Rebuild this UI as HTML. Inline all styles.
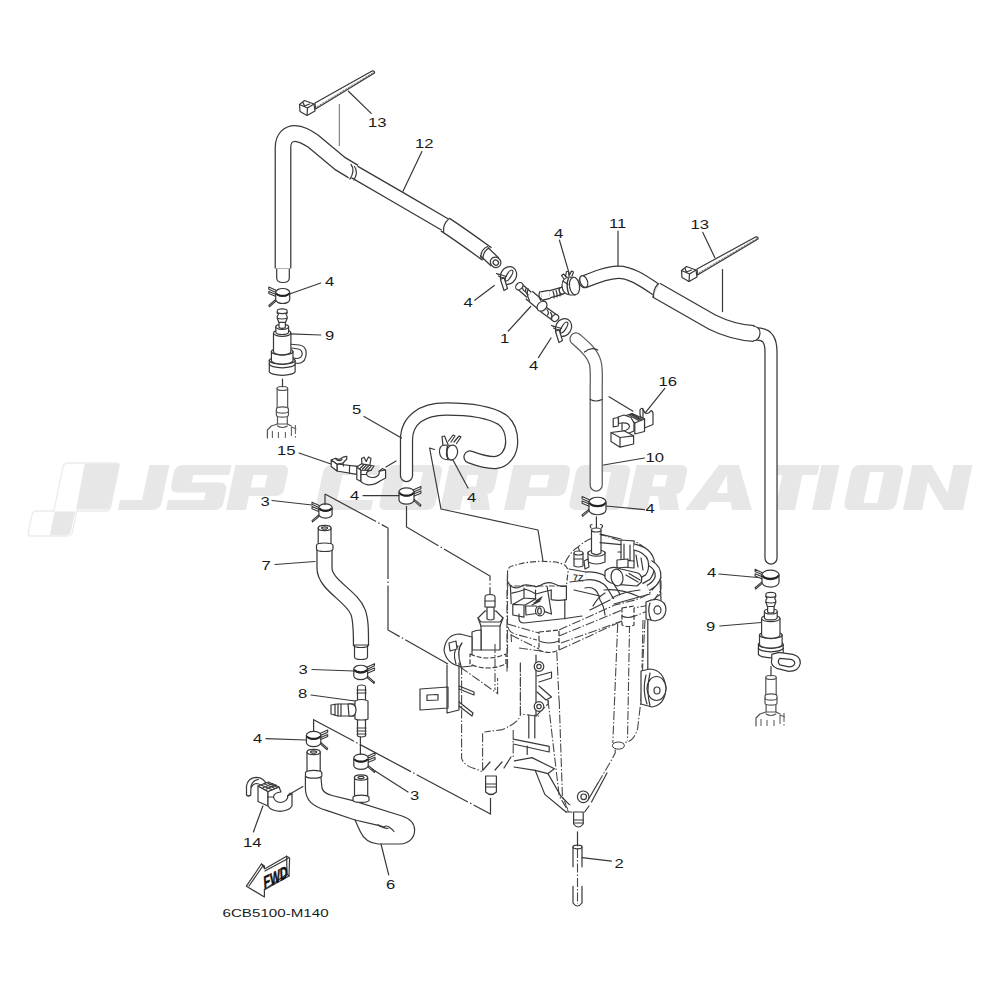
<!DOCTYPE html>
<html><head><meta charset="utf-8"><title>Fuel system diagram</title><style>
html,body{margin:0;padding:0;background:#fff;}
svg{display:block;}
.s{fill:none;stroke:#383838;stroke-width:1.2;stroke-linecap:round;stroke-linejoin:round}
.d{fill:none;stroke:#484848;stroke-width:1.1;stroke-dasharray:9 2 1.5 2}
.p{fill:none;stroke:#383838;stroke-width:1.2;stroke-dasharray:58 2.5 1.5 2.5}
.g{fill:none;stroke:#777;stroke-width:1.2;stroke-dasharray:2 1}
.g2{fill:none;stroke:#8a8a8a;stroke-width:1.3}
.w{fill:#fff;stroke:#383838;stroke-width:1.2;stroke-linejoin:round}
.t{font-family:"Liberation Sans",sans-serif;fill:#1a1a1a}
</style></head>
<body><svg width="1000" height="1000" viewBox="0 0 1000 1000">
<rect width="1000" height="1000" fill="#fff"/>
<g fill="#e7e7e7" fill-rule="evenodd" transform="matrix(1 0 -0.21 1 107.1 0)">
<path transform="translate(118 465)" d="M22,0 H42 V37 Q42,45 34,45 H0 V35 H22 Z"/>
<path transform="translate(166 465)" d="M8,0 H56 V10 H20 V17.5 H48 Q56,17.5 56,25.5 V37 Q56,45 48,45 H0 V35 H36 V27.5 H8 Q0,27.5 0,19.5 V8 Q0,0 8,0 Z"/>
<path transform="translate(226 465)" d="M0,0 H46 Q54,0 54,8 V23 Q54,31 46,31 H20 V45 H0 Z M20,10 H34 V22.5 H20 Z"/>
<path transform="translate(315 465)" d="M8,0 H56 V10 H20 V35 H56 V45 H8 Q0,45 0,37 V8 Q0,0 8,0 Z"/>
<path transform="translate(378 465)" d="M8,0 H48 Q56,0 56,8 V37 Q56,45 48,45 H8 Q0,45 0,37 V8 Q0,0 8,0 Z M19,7 H37 V38 H19 Z"/>
<path transform="translate(440 465)" d="M0,0 H42 Q50,0 50,8 V21 Q50,28 44,29 L50,45 H31 L26,31 H20 V45 H0 Z M20,10 H31 V21.5 H20 Z"/>
<path transform="translate(504 465)" d="M0,0 H50 Q58,0 58,8 V23 Q58,31 50,31 H20 V45 H0 Z M20,10 H38 V22.5 H20 Z"/>
<path transform="translate(568 465)" d="M8,0 H46 Q54,0 54,8 V37 Q54,45 46,45 H8 Q0,45 0,37 V8 Q0,0 8,0 Z M19,7 H35 V38 H19 Z"/>
<path transform="translate(627 465)" d="M0,0 H44 Q52,0 52,8 V21 Q52,28 46,29 L52,45 H33 L28,31 H20 V45 H0 Z M20,10 H33 V21.5 H20 Z"/>
<path transform="translate(685 465)" d="M24.5,0 H44.5 L67,45 H47 L44,37 H23 L20,45 H0 Z M28,28 H39 L34.5,10 Z"/>
<path transform="translate(760 465)" d="M0,0 H50 V10 H35.0 V45 H15.0 V10 H0 Z"/>
<path transform="translate(812 465)" d="M0,0 H18 V45 H0 Z"/>
<path transform="translate(843 465)" d="M8,0 H44 Q52,0 52,8 V37 Q52,45 44,45 H8 Q0,45 0,37 V8 Q0,0 8,0 Z M19,7 H33 V38 H19 Z"/>
<path transform="translate(903 465)" d="M0,0 H19 L41,28 V0 H60 V45 H41 L19,17 V45 H0 Z"/>
<path d="M75,463.5 H107 Q110,463.5 110,467 V506 Q110,509.6 106,509.6 H76 Z"/>
<path d="M55,511.5 H75.5 V531 Q75.5,535 71.5,535 H55 Z"/>
<path d="M58,463 H106 Q110,463 110,467 V507 Q110,511 106,511 H77 V532 Q77,536 73,536 H37 Q33,536 33,532 V515 Q33,511 37,511 H54 V467 Q54,463 58,463 Z" fill="none" stroke="#ebebeb" stroke-width="1.3"/>
</g>
<path class="w" d="M315,103 L372.5,70.8 Q375.0,71 374.5,73 L315.5,109 Z"/>
<path d="M315.5,107.6 L373.5,72.4" fill="none" stroke="#555" stroke-width="1" stroke-dasharray="1 0.8"/>
<path class="w" d="M299.5,104.5 L304.5,100.5 L314,104 L315,111 L307,115.5 L300,111.5 Z"/>
<path class="s" d="M299.5,104.5 L307.5,108 L314,104 M307.5,108 L307,115.5 M303,102.5 L304.5,106 L309.5,104"/>
<path class="s" d="M348.4,91.2 L371.2,113.4"/>
<text class="t" style="font-size:13px" transform="matrix(1.28 0 0 1 368 126.5)">13</text>
<path class="g2" d="M339.4,104 L339.4,146"/>
<path class="w" d="M276.7,268 L276.7,278 Q276.7,282.5 283,282.5 Q289.3,282.5 289.3,278 L289.3,268 Z"/>
<path d="M352,170.5 L400,198.3 L446,225.2" fill="none" stroke="#383838" stroke-width="14.30" stroke-linecap="butt" stroke-linejoin="round"/>
<path d="M352,170.5 L400,198.3 L446,225.2" fill="none" stroke="#fff" stroke-width="11.80" stroke-linecap="butt" stroke-linejoin="round"/>
<path d="M445,224.5 C458,233 472,243 487,254" fill="none" stroke="#383838" stroke-width="16.50" stroke-linecap="butt" stroke-linejoin="round"/>
<path d="M445,224.5 C458,233 472,243 487,254" fill="none" stroke="#fff" stroke-width="14.00" stroke-linecap="butt" stroke-linejoin="round"/>
<path d="M283,268.5 L283,148 C283,137 289,133.5 295,133.5 C301,133.5 306,136.5 313,141 L340,163.5 L354,172" fill="none" stroke="#383838" stroke-width="16.80" stroke-linecap="butt" stroke-linejoin="round"/>
<path d="M283,268.5 L283,148 C283,137 289,133.5 295,133.5 C301,133.5 306,136.5 313,141 L340,163.5 L354,172" fill="none" stroke="#fff" stroke-width="14.30" stroke-linecap="butt" stroke-linejoin="round"/>
<path class="w" d="M350.5,165.5 Q356,167 354.5,172.5 Q353,178 348.5,179 Z" style="stroke:none"/>
<path class="s" d="M351,164.5 Q355.5,170 350,179 M354.5,166.5 Q358.5,172 354,180"/>
<path class="s" d="M448.4,219.4 Q443,224 443.6,231.5"/>
<path d="M484,251.5 L495,262" fill="none" stroke="#383838" stroke-width="12.30" stroke-linecap="butt" stroke-linejoin="round"/>
<path d="M484,251.5 L495,262" fill="none" stroke="#fff" stroke-width="9.80" stroke-linecap="butt" stroke-linejoin="round"/>
<path class="s" d="M481,258.5 Q480,250 487.5,246.5 M483,259.5 Q482.5,252 489,248"/>
<ellipse class="w" cx="495.6" cy="262.4" rx="5.5" ry="5" transform="rotate(40 495.6 262.4)"/>
<ellipse class="s" cx="495.8" cy="262.6" rx="2.8" ry="2.5" transform="rotate(40 495.8 262.6)"/>
<path class="s" d="M403,191.2 L421.9,151.6"/>
<text class="t" style="font-size:13px" transform="matrix(1.28 0 0 1 415 147.5)">12</text>
<g>
<path class="w" d="M276.0,290.25 L268.8,286.95 L268.8,289.15 L276.0,292.45 Z M276.0,294.4 L268.8,291.4 L268.8,293.59999999999997 L276.0,296.59999999999997 Z M276.0,299.25 L268.8,305.34999999999997 L269.4,306.75 L276.0,301.04999999999995 Z" style="stroke-width:1.1"/>
<path class="w" d="M275.7,292.4 L275.7,299.59999999999997 A7,3.9200000000000004 0 0 0 289.7,299.59999999999997 L289.7,292.4 Z"/>
<ellipse class="w" cx="282.7" cy="292.4" rx="7" ry="3.9200000000000004"/>
<path d="M276.2,293.2 A7,3.9200000000000004 0 0 0 289.2,293.2" fill="none" stroke="#222" stroke-width="1.9"/>
</g>
<path class="s" d="M289.6,294 L320.8,283"/>
<text class="t" style="font-size:13px" transform="matrix(1.28 0 0 1 325 286)">4</text>
<g>
<path class="w" d="M288.2,344 L299.2,345 Q306.2,346 306.2,353 Q306.2,362.5 298.2,363.5 L288.2,361.5 Z"/>
<path class="s" d="M291.7,348 L298.2,349 Q302.2,350 302.2,354 Q301.7,358.5 296.2,358.5 L291.7,357.5"/>
<path class="w" d="M269.3,360.5 L269.3,371.5 A12.9,3.8 0 0 0 295.09999999999997,371.5 L295.09999999999997,360.5 Z"/>
<ellipse class="w" cx="282.2" cy="360.5" rx="12.9" ry="3.8"/>
<path class="s" d="M269.3,364.0 A12.9,3.8 0 0 0 295.09999999999997,364.0"/>
<path class="w" d="M271.4,351.5 L271.4,360.5 A10.8,3.6 0 0 0 293.0,360.5 L293.0,351.5 Z"/>
<ellipse class="w" cx="282.2" cy="351.5" rx="10.8" ry="3.6"/>
<path class="w" d="M273.5,333 L273.5,351.5 A8.7,3.3 0 0 0 290.9,351.5 L290.9,333 Z"/>
<ellipse class="w" cx="282.2" cy="333" rx="8.7" ry="3.3"/>
<path class="w" d="M275.8,326.8 L275.8,332 A6.4,2.5 0 0 0 288.59999999999997,332 L288.59999999999997,326.8 Z"/>
<ellipse class="w" cx="282.2" cy="326.8" rx="6.4" ry="2.5"/>
<path class="w" d="M279.0,322.3 L279.0,326.8 A3.2,1.5 0 0 0 285.4,326.8 L285.4,322.3 Z"/>
<path class="w" d="M277.3,310.8 Q277.3,308.8 282.2,308.8 Q287.09999999999997,308.8 287.09999999999997,310.8 L287.09999999999997,312.85 L286.0,314.47 L287.09999999999997,316.225 L287.09999999999997,318.25 L285.59999999999997,322.3 L278.8,322.3 L277.3,318.25 L277.3,316.225 L278.4,314.47 L277.3,312.85 Z"/>
<path class="s" d="M277.3,312.85 Q282.2,314.35 287.09999999999997,312.85 M277.3,318.25 Q282.2,319.75 287.09999999999997,318.25"/>
</g>
<path class="s" d="M290.2,333.8 L320.8,335"/>
<text class="t" style="font-size:13px" transform="matrix(1.28 0 0 1 325 340)">9</text>
<path class="s" d="M282.5,379 L282.5,389"/>
<g style="opacity:0.85">
<path class="w" d="M277.5,415 L277.5,424 L287.29999999999995,424 L287.29999999999995,415 Z"/>
<path class="w" d="M277.15,388.5 L277.15,409 L287.65,409 L287.65,388.5 A5.25,2 0 0 0 277.15,388.5 Z"/>
<ellipse class="w" cx="282.4" cy="388.5" rx="5.25" ry="2"/>
<path class="w" d="M276.34999999999997,409 L276.34999999999997,415 A6.05,2.2 0 0 0 288.45,415 L288.45,409 A6.05,2.2 0 0 0 276.34999999999997,409 Z"/>
<path class="s" d="M276.34999999999997,411 A6.05,2.2 0 0 0 288.45,411"/>
<path class="s" d="M267.4,438 L267.4,430 L271.4,426 L277.4,424 M277.5,426 Q282.4,429 287.29999999999995,426 M287.4,424 L291.4,426"/>
<path class="d" d="M272.4,431 L272.4,438 M278.4,432 L278.4,438 M285.4,432 L285.4,438 M291.4,427 L291.4,438 M295.4,425 L295.4,438 M291.4,427 L296.4,429"/>
</g>
<text class="t" style="font-size:13px" transform="matrix(1.28 0 0 1 277 454.5)">15</text>
<path class="s" d="M299,453 L331,464"/>
<g>
<path class="w" d="M337,464 L357.6,466.4 L356.8,474.4 L337,471 Z"/>
<path class="s" d="M349.6,466 L349.4,472.8"/>
<path class="w" d="M331.2,460 L331.2,466.5 L337,471 L337,464 Z"/>
<path class="w" d="M331.2,460 L335.5,458.2 L339,459.5 L343,457.2 L346.8,456.3 L346.8,459 L343,463 L337,464 Z"/>
<path class="s" d="M336,459.2 Q339.5,462 342,459.5 M343,463 L343.5,466"/>
<path class="w" d="M356.8,467 L356.8,479.2 L361,481.5 L361,470 Z"/>
<path class="w" d="M361,470 L371,470.4 Q366,471 366.5,474.5 Q368,477.5 373,477.5 Q378,477 379.2,473.5 L379.2,471.2 L385.6,470 L385.6,478 L380,481 Q375,485 368,484.8 Q363,484 361,481.5 Z"/>
<path class="s" d="M379.2,471.2 L382.5,468.5 L385.6,470 M366.5,474.5 L361.5,474.5"/>
<path class="w" d="M356.8,467 L362,463.5 L374,466 L371,470.4 L361,470 Z"/>
<path class="s" d="M363.5,465 L360,468.5 M366,465.5 L362.5,469 M368.5,466 L365,469.5 M371,466.5 L367.5,470"/>
<path class="w" d="M362,463.8 L361.5,458.5 L364,457.2 L366.2,461.5 L368.5,457 L371,458.5 L369.8,465.3 Z"/>
</g>
<path class="s" d="M386,467 L396,461"/>
<path d="M406.5,475.5 L406.5,440 C406.5,420 422,409 446,409 C470,409 490,412 502,419.5 C511,426 511.7,435 511.7,442 C511.5,452 506,461 496,462.5 C488,463 478,460 470,457" fill="none" stroke="#383838" stroke-width="13.30" stroke-linecap="round" stroke-linejoin="round"/>
<path d="M406.5,475.5 L406.5,440 C406.5,420 422,409 446,409 C470,409 490,412 502,419.5 C511,426 511.7,435 511.7,442 C511.5,452 506,461 496,462.5 C488,463 478,460 470,457" fill="none" stroke="#fff" stroke-width="10.80" stroke-linecap="round" stroke-linejoin="round"/>
<path class="s" d="M401.5,438 L364,416.5"/>
<text class="t" style="font-size:13px" transform="matrix(1.28 0 0 1 352 414)">5</text>
<path class="s" d="M443,446 L442,436.5 L444.5,436 L448,444.5 M448.5,441 L453,435 L455,436 L451,442 M454,442 L459,436 L461,437 L456.5,443.5"/>
<path class="w" d="M444,445 Q439,446 439.5,452.5 Q440.5,459 446,459.5 L452,460 L452,445.5 Z"/>
<ellipse class="w" cx="452" cy="452.5" rx="5.5" ry="7.5" transform="rotate(10 452 452.5)"/>
<path d="M447.5,446 Q446,452 448,459.5" fill="none" stroke="#383838" stroke-width="1.5"/>
<path class="s" d="M453,460 L468,488"/>
<text class="t" style="font-size:13px" transform="matrix(1.28 0 0 1 467 502)">4</text>
<g>
<path class="w" d="M413.7,489.85 L420.9,486.55 L420.9,488.75 L413.7,492.05 Z M413.7,494 L420.9,491 L420.9,493.2 L413.7,496.2 Z M413.7,498.85 L420.9,504.95 L420.3,506.35 L413.7,500.65 Z" style="stroke-width:1.1"/>
<path class="w" d="M399.0,492 L399.0,500 A7.5,4.2 0 0 0 414.0,500 L414.0,492 Z"/>
<ellipse class="w" cx="406.5" cy="492" rx="7.5" ry="4.2"/>
<path d="M399.5,492.8 A7.5,4.2 0 0 0 413.5,492.8" fill="none" stroke="#222" stroke-width="1.9"/>
</g>
<path class="s" d="M363,495.6 L399,495.6"/>
<text class="t" style="font-size:13px" transform="matrix(1.28 0 0 1 350 499.5)">4</text>
<path class="w" d="M697,269 L756,236.8 Q758.5,237 758,239 L697.5,275 Z"/>
<path d="M697.5,273.6 L757,238.4" fill="none" stroke="#555" stroke-width="1" stroke-dasharray="1 0.8"/>
<path class="w" d="M681.5,270.5 L686.5,266.5 L696,270 L697,277 L689,281.5 L682,277.5 Z"/>
<path class="s" d="M681.5,270.5 L689.5,274 L696,270 M689.5,274 L689,281.5 M685,268.5 L686.5,272 L691.5,270"/>
<path class="s" d="M714.8,257.6 L702.8,232.4"/>
<text class="t" style="font-size:13px" transform="matrix(1.28 0 0 1 690.5 229)">13</text>
<path class="s" d="M722.5,269.6 L722.5,311.6"/>
<path d="M757,334 C767,334 771,340 771,352 L771,558" fill="none" stroke="#383838" stroke-width="13.30" stroke-linecap="round" stroke-linejoin="round"/>
<path d="M757,334 C767,334 771,340 771,352 L771,558" fill="none" stroke="#fff" stroke-width="10.80" stroke-linecap="round" stroke-linejoin="round"/>
<path d="M585,281.5 C596,277 607,272.5 618,272.2 C630,272 642,280 656,289.5" fill="none" stroke="#383838" stroke-width="13.40" stroke-linecap="round" stroke-linejoin="round"/>
<path d="M585,281.5 C596,277 607,272.5 618,272.2 C630,272 642,280 656,289.5" fill="none" stroke="#fff" stroke-width="10.90" stroke-linecap="round" stroke-linejoin="round"/>
<path d="M656,290 L712,322 C728,330 745,333 754,333.5" fill="none" stroke="#383838" stroke-width="16.80" stroke-linecap="butt" stroke-linejoin="round"/>
<path d="M656,290 L712,322 C728,330 745,333 754,333.5" fill="none" stroke="#fff" stroke-width="14.30" stroke-linecap="butt" stroke-linejoin="round"/>
<path class="w" d="M753,326 Q760.5,327 760,333.5 Q759.5,340 753,341" />
<path d="M752.5,327.3 L752.5,339.7" stroke="#fff" stroke-width="2"/>
<path class="s" d="M657.5,284.5 Q653,290 653.6,297"/>
<ellipse class="w" cx="583.8" cy="281.5" rx="3.6" ry="6.1" transform="rotate(-22 583.8 281.5)"/>
<path class="s" d="M618,266 L618,231"/>
<text class="t" style="font-size:13px" transform="matrix(1.28 0 0 1 609 227.5)">11</text>
<ellipse class="w" cx="508.5" cy="275.5" rx="7.8" ry="9.2" transform="rotate(30 508.5 275.5)"/>
<ellipse class="s" cx="509.0" cy="275.5" rx="2.2" ry="6.199999999999999" transform="rotate(32 509.0 275.5)"/>
<path class="w" d="M500.5,279.5 L504.0,277.5 L507.5,288.5 L504.0,290.5 Z"/>
<path class="s" d="M506.5,276.5 L496.5,273.5 L498.5,274.5 M498.5,276.0 L505.5,279.0"/>
<path class="s" d="M494.3,285.5 L474.7,300.2"/>
<text class="t" style="font-size:13px" transform="matrix(1.28 0 0 1 463.5 307)">4</text>
<path d="M520,286.8 L531,296.5" fill="none" stroke="#383838" stroke-width="7.90" stroke-linecap="round" stroke-linejoin="round"/>
<path d="M520,286.8 L531,296.5" fill="none" stroke="#fff" stroke-width="5.40" stroke-linecap="round" stroke-linejoin="round"/>
<path class="s" d="M523,285.5 Q521.5,289.5 525,291.5 M526,288.5 Q524.5,292.5 528,294.5"/>
<ellipse class="w" cx="519.3" cy="286.2" rx="3.1" ry="4.1" transform="rotate(45 519.3 286.2)"/>
<path d="M543.5,309.5 L554.5,317.5" fill="none" stroke="#383838" stroke-width="8.30" stroke-linecap="round" stroke-linejoin="round"/>
<path d="M543.5,309.5 L554.5,317.5" fill="none" stroke="#fff" stroke-width="5.80" stroke-linecap="round" stroke-linejoin="round"/>
<path class="s" d="M547,309.5 Q549.5,313 547.5,315 M550.5,312.5 Q553,315.5 551,318"/>
<ellipse class="w" cx="555.2" cy="318" rx="3.1" ry="3.8" transform="rotate(45 555.2 318)"/>
<path d="M529,295 L542,306" fill="none" stroke="#383838" stroke-width="11.30" stroke-linecap="butt" stroke-linejoin="round"/>
<path d="M529,295 L542,306" fill="none" stroke="#fff" stroke-width="8.80" stroke-linecap="butt" stroke-linejoin="round"/>
<ellipse class="w" cx="542" cy="306.2" rx="4.3" ry="5.6" transform="rotate(45 542 306.2)"/>
<path class="s" d="M528.4,289 Q525.5,293 529.5,300.5"/>
<path d="M547,295 L561.5,291" fill="none" stroke="#383838" stroke-width="8.30" stroke-linecap="round" stroke-linejoin="round"/>
<path d="M547,295 L561.5,291" fill="none" stroke="#fff" stroke-width="5.80" stroke-linecap="round" stroke-linejoin="round"/>
<path class="s" d="M553,291.2 Q554.5,294.5 554,298 M556,290.5 Q557.5,293.5 557,297 M559,289.7 Q560.5,292.5 560,296"/>
<ellipse class="w" cx="562" cy="290.7" rx="2.6" ry="3.4" transform="rotate(-15 562 290.7)"/>
<path d="M541.5,296 L549.5,294.3" fill="none" stroke="#383838" stroke-width="9.50" stroke-linecap="butt" stroke-linejoin="round"/>
<path d="M541.5,296 L549.5,294.3" fill="none" stroke="#fff" stroke-width="7.00" stroke-linecap="butt" stroke-linejoin="round"/>
<path class="s" d="M540,291.5 Q537.5,296.5 541,300.5"/>
<path class="s" d="M530.7,306.5 L508.3,331"/>
<text class="t" style="font-size:13px" transform="matrix(1.28 0 0 1 500 343)">1</text>
<path class="s" d="M564,279 L561.5,275.5 L563.5,274 L567,277.5 M565.5,276.5 L566.5,271.5 L568.5,271.5 L569,276 M569.5,275 L571.5,271 L573.5,272 L572,276"/>
<path class="w" d="M569,277 Q562,278 562,286 Q562.5,294 570,295 L575,295 L575,277.5 Z"/>
<ellipse class="w" cx="574.5" cy="286" rx="5" ry="8.8" transform="rotate(-8 574.5 286)"/>
<path d="M568.5,278 Q565.5,286 569,294.5" fill="none" stroke="#383838" stroke-width="1.4"/>
<path class="s" d="M563,281 L568,284.5"/>
<path class="s" d="M569.2,273.6 L559.4,240"/>
<text class="t" style="font-size:13px" transform="matrix(1.28 0 0 1 554 237.5)">4</text>
<ellipse class="w" cx="563.5" cy="327.5" rx="7.8" ry="9.2" transform="rotate(30 563.5 327.5)"/>
<ellipse class="s" cx="564.0" cy="327.5" rx="2.2" ry="6.199999999999999" transform="rotate(32 564.0 327.5)"/>
<path class="w" d="M555.5,331.5 L559.0,329.5 L562.5,340.5 L559.0,342.5 Z"/>
<path class="s" d="M561.5,328.5 L551.5,325.5 L553.5,326.5 M553.5,328.0 L560.5,331.0"/>
<path class="s" d="M551,338 L538.4,357.6"/>
<text class="t" style="font-size:13px" transform="matrix(1.28 0 0 1 529 370)">4</text>
<path d="M576,339 C583,345 592,352 595,362 C597,368 596.2,376 596.2,390 L596.2,485" fill="none" stroke="#5a5a5a" stroke-width="13.30" stroke-linecap="round" stroke-linejoin="round"/>
<path d="M576,339 C583,345 592,352 595,362 C597,368 596.2,376 596.2,390 L596.2,485" fill="none" stroke="#fff" stroke-width="10.80" stroke-linecap="round" stroke-linejoin="round"/>
<path class="s" d="M584.5,352 Q591,346.5 597.8,350"/>
<path class="s" d="M590.3,399.5 Q596,402.5 602,399.5"/>
<path class="s" d="M603.6,465 L644.4,458"/>
<text class="t" style="font-size:13px" transform="matrix(1.28 0 0 1 645.5 461.5)">10</text>
<g>
<path class="w" d="M589.3,499.85 L582.0999999999999,496.55 L582.0999999999999,498.75 L589.3,502.05 Z M589.3,504 L582.0999999999999,501 L582.0999999999999,503.2 L589.3,506.2 Z M589.3,508.85 L582.0999999999999,514.95 L582.6999999999999,516.35 L589.3,510.65 Z" style="stroke-width:1.1"/>
<path class="w" d="M589.0,502 L589.0,510 A8.5,4.760000000000001 0 0 0 606.0,510 L606.0,502 Z"/>
<ellipse class="w" cx="597.5" cy="502" rx="8.5" ry="4.760000000000001"/>
<path d="M589.5,502.8 A8.5,4.760000000000001 0 0 0 605.5,502.8" fill="none" stroke="#222" stroke-width="1.9"/>
</g>
<path class="s" d="M606,506 L644.4,509.6"/>
<text class="t" style="font-size:13px" transform="matrix(1.28 0 0 1 645.5 513)">4</text>
<path class="s" d="M596.4,516.8 L596.4,534.8"/>
<g>
<path class="w" d="M640,410 Q641,407.5 643,409 Q644,413 647,413.5 Q650,413 651,410.5 Q653,411 653,414 L653,424.5 L644.5,428 L644.5,419 Q640,418 640,414 Z"/>
<path class="s" d="M643,409 L643,418"/>
<path class="w" d="M626,415.5 L632,413.5 L644.5,419 L644.5,431.5 L634.8,434 L634.8,423 Z"/>
<path class="s" d="M629,415 L638.5,420.5 M630.5,414.3 L640,419.8 M632,413.8 L641.5,419.2 M634.8,423 L644.5,419"/>
<path class="w" d="M618,417 L624,415 L631,417.5 L634,423 L634,431 L628,433.5 L623,431 Q629,430 629.5,426.5 Q629,422.5 622,423 L618,423.5 Z"/>
<path class="s" d="M618.5,417.5 L618.5,423.5 M622,423 L622,430"/>
<path class="w" d="M613.2,418.5 L618.3,417.5 L618.3,426 L613.2,426.8 Z"/>
<path class="w" d="M611,432.5 L620,437.5 L633.6,435.8 L624,430.8 Z M611,432.5 L611,441.5 L620,447.2 L620,437.5 Z M620,437.5 L633.6,435.8 L633.6,444 L620,447.2 Z"/>
</g>
<path class="s" d="M645.6,412.4 L664.8,388.4"/>
<text class="t" style="font-size:13px" transform="matrix(1.28 0 0 1 658.5 386)">16</text>
<path class="s" d="M609,396.8 L633,411.2"/>
<g>
<path class="w" d="M762.3,572.65 L755.0999999999999,569.3499999999999 L755.0999999999999,571.55 L762.3,574.8499999999999 Z M762.3,576.8 L755.0999999999999,573.8 L755.0999999999999,576.0 L762.3,579.0 Z M762.3,581.65 L755.0999999999999,587.75 L755.6999999999999,589.15 L762.3,583.4499999999999 Z" style="stroke-width:1.1"/>
<path class="w" d="M762.0,574.8 L762.0,582.3 A8.5,4.760000000000001 0 0 0 779.0,582.3 L779.0,574.8 Z"/>
<ellipse class="w" cx="770.5" cy="574.8" rx="8.5" ry="4.760000000000001"/>
<path d="M762.5,575.5999999999999 A8.5,4.760000000000001 0 0 0 778.5,575.5999999999999" fill="none" stroke="#222" stroke-width="1.9"/>
</g>
<path class="s" d="M719,574 L757.6,577.5"/>
<text class="t" style="font-size:13px" transform="matrix(1.28 0 0 1 707 576.5)">4</text>
<g>
<path class="w" d="M758.4,644.5 L758.4,654 A12.4,3.8 0 0 0 783.1999999999999,654 L783.1999999999999,644.5 Z"/>
<ellipse class="w" cx="770.8" cy="644.5" rx="12.4" ry="3.8"/>
<path class="s" d="M758.4,648.0 A12.4,3.8 0 0 0 783.1999999999999,648.0"/>
<path class="w" d="M759.5,635 L759.5,644.5 A11.3,3.6 0 0 0 782.0999999999999,644.5 L782.0999999999999,635 Z"/>
<ellipse class="w" cx="770.8" cy="635" rx="11.3" ry="3.6"/>
<path class="w" d="M761.5999999999999,618.4 L761.5999999999999,635 A9.2,3.3 0 0 0 780.0,635 L780.0,618.4 Z"/>
<ellipse class="w" cx="770.8" cy="618.4" rx="9.2" ry="3.3"/>
<path class="w" d="M764.4,611.5 L764.4,617.4 A6.4,2.5 0 0 0 777.1999999999999,617.4 L777.1999999999999,611.5 Z"/>
<ellipse class="w" cx="770.8" cy="611.5" rx="6.4" ry="2.5"/>
<path class="w" d="M767.5999999999999,606.5 L767.5999999999999,611.5 A3.2,1.5 0 0 0 774.0,611.5 L774.0,606.5 Z"/>
<path class="w" d="M765.9,594.3 Q765.9,592.3 770.8,592.3 Q775.6999999999999,592.3 775.6999999999999,594.3 L775.6999999999999,596.56 L774.5999999999999,598.264 L775.6999999999999,600.11 L775.6999999999999,602.24 L774.1999999999999,606.5 L767.4,606.5 L765.9,602.24 L765.9,600.11 L767.0,598.264 L765.9,596.56 Z"/>
<path class="s" d="M765.9,596.56 Q770.8,598.06 775.6999999999999,596.56 M765.9,602.24 Q770.8,603.74 775.6999999999999,602.24"/>
<path class="w" d="M771.8,654.3 L778.8,652.3 L792.8,654.3 Q800.8,656.3 800.3,663.3 Q798.8,671.3 788.8,671.3 L776.8,668.3 Q769.8,665.3 771.8,659.3 Z"/>
<path class="s" d="M779.8,658.3 L790.8,659.3 Q794.8,660.3 794.8,663.3 Q793.8,666.8 788.8,666.8 L779.8,664.8 Q776.8,661.3 779.8,658.3 Z"/>
</g>
<path class="s" d="M719.8,626 L761.2,622.5"/>
<text class="t" style="font-size:13px" transform="matrix(1.28 0 0 1 706 630.5)">9</text>
<path class="s" d="M771,666.6 L771,677.4"/>
<g style="opacity:0.85">
<path class="w" d="M766.1,703 L766.1,712 L775.9,712 L775.9,703 Z"/>
<path class="w" d="M765.8,677.5 L765.8,696 L776.2,696 L776.2,677.5 A5.2,2 0 0 0 765.8,677.5 Z"/>
<ellipse class="w" cx="771" cy="677.5" rx="5.2" ry="2"/>
<path class="w" d="M765.0,696 L765.0,703 A6.0,2.2 0 0 0 777.0,703 L777.0,696 A6.0,2.2 0 0 0 765.0,696 Z"/>
<path class="s" d="M765.0,698 A6.0,2.2 0 0 0 777.0,698"/>
<path class="s" d="M756,726 L756,718 L760,714 L766,712 M766.1,714 Q771,717 775.9,714 M776,712 L780,714"/>
<path class="d" d="M761,719 L761,726 M767,720 L767,726 M774,720 L774,726 M780,715 L780,726 M784,713 L784,726 M780,715 L785,717"/>
</g>
<g>
<path class="w" d="M319.2,505.45000000000005 L312.0,502.15000000000003 L312.0,504.35 L319.2,507.65000000000003 Z M319.2,509.6 L312.0,506.6 L312.0,508.8 L319.2,511.8 Z M319.2,514.45 L312.0,520.5500000000001 L312.59999999999997,521.95 L319.2,516.25 Z" style="stroke-width:1.1"/>
<path class="w" d="M318.9,507.6 L318.9,514.4 A6.6,3.696 0 0 0 332.1,514.4 L332.1,507.6 Z"/>
<ellipse class="w" cx="325.5" cy="507.6" rx="6.6" ry="3.696"/>
<path d="M319.4,508.40000000000003 A6.6,3.696 0 0 0 331.6,508.40000000000003" fill="none" stroke="#222" stroke-width="1.9"/>
</g>
<path class="s" d="M272,500.5 L312,505"/>
<text class="t" style="font-size:13px" transform="matrix(1.28 0 0 1 260.5 505.5)">3</text>
<path d="M324.5,549 L324.5,568 C324.5,585 352,596 358,612 C361,620 361,630 361,646" fill="none" stroke="#383838" stroke-width="16.30" stroke-linecap="butt" stroke-linejoin="round"/>
<path d="M324.5,549 L324.5,568 C324.5,585 352,596 358,612 C361,620 361,630 361,646" fill="none" stroke="#fff" stroke-width="13.80" stroke-linecap="butt" stroke-linejoin="round"/>
<path class="w" d="M318.2,528 L318.2,548 L331,548 L331,528 Z"/>
<ellipse class="w" cx="324.6" cy="528" rx="6.4" ry="2.6"/>
<ellipse class="s" cx="324.6" cy="528" rx="3" ry="1.2"/>
<path class="w" d="M316.5,545.5 L316.5,549 A8.2,2.5 0 0 0 333,549 L333,545.5 A8.2,2.5 0 0 0 316.5,545.5 Z"/>
<path class="w" d="M354.5,645 L354.5,657 A6.5,2.5 0 0 0 367.5,657 L367.5,645 Z"/>
<path class="s" d="M353.6,645 A7.4,2.5 0 0 0 368.4,645"/>
<path class="s" d="M315,561.5 L275,564.5"/>
<text class="t" style="font-size:13px" transform="matrix(1.28 0 0 1 261.5 570)">7</text>
<g>
<path class="w" d="M367.29999999999995,666.95 L374.49999999999994,663.65 L374.49999999999994,665.85 L367.29999999999995,669.15 Z M367.29999999999995,671.1 L374.49999999999994,668.1 L374.49999999999994,670.3000000000001 L367.29999999999995,673.3000000000001 Z M367.29999999999995,675.95 L374.49999999999994,682.0500000000001 L373.9,683.45 L367.29999999999995,677.75 Z" style="stroke-width:1.1"/>
<path class="w" d="M353.8,669.1 L353.8,675.7 A6.9,3.8640000000000008 0 0 0 367.59999999999997,675.7 L367.59999999999997,669.1 Z"/>
<ellipse class="w" cx="360.7" cy="669.1" rx="6.9" ry="3.8640000000000008"/>
<path d="M354.3,669.9 A6.9,3.8640000000000008 0 0 0 367.09999999999997,669.9" fill="none" stroke="#222" stroke-width="1.9"/>
</g>
<path class="s" d="M312,669.5 L354,671"/>
<text class="t" style="font-size:13px" transform="matrix(1.28 0 0 1 298.5 673.5)">3</text>
<path class="w" d="M357.5,687 Q357.5,685 361.5,685 Q365.5,685 365.5,687 L365.5,700 L357.5,700 Z"/>
<path class="s" d="M357,690 L366,690 M357,693 L366,693"/>
<path class="w" d="M331,705 L331,714 L338,716 L356,716 L356,704 L338,704 Z"/>
<path class="s" d="M335,704 L335,715.5 M338,704 L338,716 M341,704 L341,716"/>
<path class="w" d="M355,701 L355,719 Q361.5,722 368,719 L368,701 Q361.5,698 355,701 Z"/>
<path class="w" d="M348,704 Q356,703 356,710 Q356,717 349,716 Z"/>
<path class="w" d="M357.5,720 L357.5,736 Q361.5,738 365.5,736 L365.5,720 Z"/>
<path class="s" d="M357,728 L366,728 M357,731 L366,731 M357,734 L366,734"/>
<path class="s" d="M311,695 L355,701"/>
<text class="t" style="font-size:13px" transform="matrix(1.28 0 0 1 298 698)">8</text>
<g>
<path class="w" d="M320.5,733.25 L327.7,729.9499999999999 L327.7,732.15 L320.5,735.4499999999999 Z M320.5,737.4 L327.7,734.4 L327.7,736.6 L320.5,739.6 Z M320.5,742.25 L327.7,748.35 L327.1,749.75 L320.5,744.05 Z" style="stroke-width:1.1"/>
<path class="w" d="M306.40000000000003,735.4 L306.40000000000003,742.6 A7.2,4.032000000000001 0 0 0 320.8,742.6 L320.8,735.4 Z"/>
<ellipse class="w" cx="313.6" cy="735.4" rx="7.2" ry="4.032000000000001"/>
<path d="M306.90000000000003,736.1999999999999 A7.2,4.032000000000001 0 0 0 320.3,736.1999999999999" fill="none" stroke="#222" stroke-width="1.9"/>
</g>
<path class="s" d="M266,738.6 L306,740"/>
<text class="t" style="font-size:13px" transform="matrix(1.28 0 0 1 253 743)">4</text>
<g>
<path class="w" d="M367.9,756.0500000000001 L375.09999999999997,752.75 L375.09999999999997,754.95 L367.9,758.25 Z M367.9,760.2 L375.09999999999997,757.2 L375.09999999999997,759.4000000000001 L367.9,762.4000000000001 Z M367.9,765.0500000000001 L375.09999999999997,771.1500000000001 L374.5,772.5500000000001 L367.9,766.85 Z" style="stroke-width:1.1"/>
<path class="w" d="M353.8,758.2 L353.8,765.4000000000001 A7.2,4.032000000000001 0 0 0 368.2,765.4000000000001 L368.2,758.2 Z"/>
<ellipse class="w" cx="361" cy="758.2" rx="7.2" ry="4.032000000000001"/>
<path d="M354.3,759.0 A7.2,4.032000000000001 0 0 0 367.7,759.0" fill="none" stroke="#222" stroke-width="1.9"/>
</g>
<path class="s" d="M372,769 L408,792"/>
<text class="t" style="font-size:13px" transform="matrix(1.28 0 0 1 410 800)">3</text>
<path class="p" d="M360.4,736.6 L360.4,755"/>
<path class="w" d="M305.4,776 L320.8,776 L322,788 C323,792 326,794 332,795.5 L353,800.6 L402,816 C411,819 414.6,824 414.6,830 C414.6,838 409,843.5 400,844 L378,844 C369,843 363,838 360,831 L355,820 L326.4,810.4 C312,806 305.4,800 305.4,788 Z"/>
<path class="s" d="M355,820 L374,824.4 Q380,825.5 384,827 Q386,825 389,827 Q392,829 394,831.5"/>
<path class="s" d="M378,824.8 Q382,828 388,828.5"/>
<path class="s" d="M381,844 L388.7,874.8"/>
<text class="t" style="font-size:13px" transform="matrix(1.28 0 0 1 386 888.5)">6</text>
<path class="w" d="M307,752 L307,773 L320.2,773 L320.2,752 Z"/>
<ellipse class="w" cx="313.6" cy="752" rx="6.6" ry="2.6"/>
<ellipse class="s" cx="313.6" cy="752" rx="3" ry="1.2"/>
<path class="w" d="M305.5,772.5 L305.5,776 A8.2,2.5 0 0 0 321.8,776 L321.8,772.5 A8.2,2.5 0 0 0 305.5,772.5 Z"/>
<path class="w" d="M354.5,777.5 L354.5,797 L367.7,797 L367.7,777.5 Z"/>
<ellipse class="w" cx="361" cy="777.5" rx="6.6" ry="2.6"/>
<ellipse class="s" cx="361" cy="777.5" rx="3" ry="1.2"/>
<path class="w" d="M353,797 L353,800.5 A8.2,2.5 0 0 0 369,800.5 L369,797 A8.2,2.5 0 0 0 353,797 Z"/>
<g>
<path class="w" d="M246.5,795 L246.5,786 Q248,777.5 256.5,777.3 Q264,777.5 267,785.5 L262.5,789.5 Q261.5,783.5 256.5,783.5 Q251.5,784 250.8,789.5 L250.8,795 Q248.5,797 246.5,795 Z"/>
<path class="s" d="M250.8,787 Q252,780.5 258.5,779.5"/>
<path class="w" d="M258,786 L258,801.5 L268,806 L268,791.5 Z"/>
<path class="w" d="M268,791.5 L279,787 L281,792 Q274,792.5 273.5,797 Q274.5,802 280.5,802.5 Q285.5,802 287.6,798 L287.6,796 L292,794 L292,806 Q289,811 280,811.3 Q271,811 268,806 Z"/>
<path class="s" d="M287.6,796 L290,793.2 L292,794 M273.5,797 L268,797"/>
<path class="w" d="M258,786 L268.5,782 L279,787 L268,791.5 Z"/>
<path class="s" d="M261,785 L271.5,789.5 M264,783.8 L274.5,788.3 M267,782.8 L277,787.3 M263,787.8 L273,783.5 M266,789.2 L276,784.8"/>
</g>
<path class="s" d="M262.9,806 L253.4,832"/>
<text class="t" style="font-size:13px" transform="matrix(1.28 0 0 1 243 846.5)">14</text>
<path class="s" d="M291.2,793.3 L302.9,786.6"/>
<path class="w" d="M246.4,886.2 L261.4,864 L265,868.8 L286.6,856.2 L289.6,858 L289,876 L264.4,889.8 L264.4,897 Z"/>
<path class="s" d="M261.4,864 L264.4,866 L264.4,868.5 M286.6,856.2 L287,874 L289,876 M264.4,889.8 L287,874"/>
<path class="s" d="M249,886 L262.5,866.5 M265,871 L288,858.5"/>
<text transform="matrix(0.6 -0.29 0.06 1 264 889)" style="font:bold 17.5px 'Liberation Sans',sans-serif" fill="#111" stroke="#111" stroke-width="0.5">FWD</text>
<text class="t" style="font-size:11.8px" transform="matrix(1.285 0 0 1 222.5 916.8)">6CB5100-M140</text>
<path class="s" d="M577.5,831.8 L577.5,845.8"/>
<path class="s" d="M573,847 L573,866.8 M582,847 L582,866.8 M573,886.4 L573,903 Q577.5,909 582,903 L582,886.4"/>
<ellipse class="s" cx="577.5" cy="847" rx="4.5" ry="1.8"/>
<path class="d" d="M577.5,849 L577.5,904"/>
<path class="s" d="M582,857.7 L611.4,861.2"/>
<text class="t" style="font-size:13px" transform="matrix(1.28 0 0 1 614.5 867.5)">2</text>
<path class="p" d="M406.5,506 L406.5,527 L490,576 L490,595"/>
<path class="p" d="M325,494 L325,505"/>
<path class="p" d="M325,494 L388,528 L388,630 L448,664"/>
<path class="s" d="M434.5,449.5 L429.6,448 L441,509 L538,530 L551.5,614"/>
<path class="p" d="M313.6,732 L313.6,719.8 L490.5,814 L490.5,798"/>
<g class="fa">
<path class="d" d="M548,700 L559.2,796 L568.8,812"/>
<path class="d" d="M559.2,700 L562.4,796 L568.8,812"/>
<path class="d" d="M556.8,652 L559,700 M548.4,704 L548,700"/>
<path class="d" d="M645,620 L641,700 L637.6,728.8 Q634,740 628,741.6 L615.2,746.4"/>
<path class="d" d="M617.7,624 L612.8,743 M629.6,624 L627.5,740.4"/>
<path class="s" d="M647.8,620 L647.8,669"/>
<ellipse class="w" cx="618.4" cy="745.6" rx="6" ry="3.6" style="stroke-width:1"/>
<path class="d" d="M615.2,749.5 L615.2,752.8 L612,759.2 L598,783"/>
<path class="s" d="M598,783 L588,800 M607,773 L591.5,802"/>
<path class="w" d="M641,671 L650,669 Q664,670 666,688 Q665,705 652,707 L641,704 Z"/>
<ellipse class="w" cx="656.5" cy="688.5" rx="9.5" ry="12"/>
<ellipse class="s" cx="657" cy="690.5" rx="3" ry="3.5"/>
<path class="s" d="M646,675 Q642,690 647,704 M650,673 Q646,690 650,706"/>
<path class="s" d="M513.2,739.2 L549.2,746.4 L549.2,752 L513.2,744"/>
<path class="s" d="M527.2,746 L527.2,754.4"/>
<path class="s" d="M514.4,760.8 L532,757.6 L554.4,768.8 L548,773.6 L535.2,770.4 L514,767"/>
<path class="s" d="M535.2,770.4 L544.8,794.4 L566,812 M548,773.6 L560.8,796 L570.4,805.6"/>
<path class="s" d="M528.8,715 L528.8,738 M534.8,715 L534.8,738"/>
<path class="w" d="M566,805 L571,811.5 L585,811.5 L587,806 Z" style="stroke:none"/>
<path class="s" d="M566,812 L572,812 M584.7,812 L589,806"/>
<path class="w" d="M573.6,812 L573.6,824 Q578.4,830 583.2,824 L583.2,812 Z"/>
<path class="s" d="M573.6,820 L583.2,820 M573.6,823 L583.2,823"/>
<circle class="w" cx="583.2" cy="796.8" r="5.8"/>
<circle class="s" cx="583.7" cy="796.8" r="2.8"/>
<path class="d" d="M520.4,662.4 L520.4,714 L536,716 L541,716 M536,716 L548,704"/>
<path class="s" d="M536,655 L536,716"/>
<circle class="w" cx="539" cy="666.5" r="4.8"/><circle class="s" cx="539" cy="666.5" r="2.2"/>
<circle class="w" cx="539" cy="706.5" r="4.8"/><circle class="s" cx="539" cy="706.5" r="2.2"/>
<path class="s" d="M537,676 L551.5,672 L551.5,678 L539,682 M539,686 L551.5,697 L546,700 L537,692"/>
<path class="d" d="M461.6,666 L461.6,758.4 Q464,766 476,769 L482,771.6"/>
<path class="d" d="M520.4,663.6 L520.4,714 Q520,722 502.4,729.6 L484.4,732"/>
<path class="d" d="M482.6,733.2 L482.6,770.4 M513.2,730 L513.2,758.4"/>
<path class="d" d="M460.4,667.2 L497.6,693.6 L497.6,678"/>
<path class="w" d="M485.6,776 L485.6,792 Q491,797 496.4,792 L496.4,776 Z"/>
<path class="s" d="M485.6,784 L496.4,784 M485.6,787 L496.4,787"/>
<path class="s" d="M483,770 L490,762 M495,770 L502,762 M504,768 L511,757"/>
<path class="w" d="M481,625 L481,650 L500,650 L500,625 Z"/>
<path class="w" d="M472,632 Q476,630 481,630 L481,650 L472,650 Z"/>
<path class="w" d="M478,618 L485,611 L496,611 L503,618 L500,626 L481,626 Z"/>
<path class="s" d="M478,618 L481,622 L500,622 L503,618"/>
<path class="w" d="M487,607 L487,619 Q490.5,621 494,619 L494,607 Z"/>
<path class="w" d="M485,597 Q485,594.5 490,594.5 Q495,594.5 495,597 L495,607 L485,607 Z"/>
<path class="s" d="M485,601 L495,601"/>
<path class="w" d="M444,650 Q446,634 460,634 L472,637 L472,666 L462,667 Q446,664 444,650 Z"/>
<path class="s" d="M458,646 Q452,652 456,664 M462,643 Q456,650 461,666"/>
<path class="w" d="M449,643 L456,641 L457,649 L450,651 Z"/>
<path class="w" d="M470,654 Q487,662 506,654 L506,664 Q487,672 470,664 Z" style="stroke-dasharray:5 2"/>
<path class="d" d="M495,644 L495,690 M507,590 L507,673"/>
<path class="w" d="M420,689 L448,687 L448,708 L420,710 Z"/>
<path class="s" d="M427,695 L438,694.5 L438,700 L427,700.5 Z"/>
<path class="s" d="M447,665 L447,713 M459,663 L459,710 M447,713 L459,710"/>
<path class="s" d="M459,686 L474,692 L474,695 L459,689 M459,702 L473,713 L472,716 L459,706"/>
<path class="w" d="M507.4,580 L507.6,571 Q509,566 512,566 L524,562.8 L540,561.2 L556,562 L564,564.4 Q568,567 568,572 L566.4,586 L507.4,586 Z" style="stroke-dasharray:6 2 1.5 2;stroke:#444"/>
<path class="s" d="M507.2,580.4 Q509,585 512,586.8 Q516,589 520,587 Q524,584 528.8,585.2 Q533,586 536,586.8 Q540,586 544,583.6 Q548,582 551.2,582.8 Q555,584 557.6,585.2 Q562,587 566.4,586"/>
<path class="s" d="M510.4,586 L511.2,603.6 M512,593.2 Q518,592 525.6,589.2 Q531,591 536,594 Q543,592 551.2,590"/>
<path class="s" d="M551.2,590 L551.2,599.6 Q558,601 566.4,599.6 L566.4,586"/>
<path class="s" d="M564.8,599.6 L564.8,618.8"/>
<path class="s" d="M512.8,604.4 L524,598 L536,598.8 L525,605 Z M512.8,604.4 L512.8,615 L524,617.2 L524,605 M524,598 L524,588"/>
<path class="s" d="M535.5,590 L535.5,599"/>
<path class="s" d="M532,605 L540,601 M534,603 L541,599 M536,601 L542,597"/>
<path class="w" d="M525.6,606 L536,606 L540,613 L526,615 Z"/>
<ellipse class="w" cx="540" cy="611" rx="4.5" ry="4.8"/>
<ellipse class="s" cx="539.5" cy="611" rx="1.8" ry="3.2"/>
<path class="s" d="M544.8,611.6 L551.2,614"/>
<path class="d" d="M507.5,572 L507.5,670"/>
<path class="s" d="M519,614 L519,619 Q519.5,623 524,623 L565,618.5 L582,616"/>
<path class="d" d="M507.5,624 L539,633"/>
<path class="d" d="M508,627 Q509,632 515,634 L537,640"/>
<path class="d" d="M511,634 L511.5,642 M511,635 L539,649"/>
<path class="d" d="M519,648 L547,652"/>
<path class="w" d="M539,632 L559,630 L559,650 Q549,655 539,650 Z" style="stroke-dasharray:5 2"/>
<path class="s" d="M539,641 Q549,645 559,641"/>
<path class="d" d="M559,630 L615,605 L635,600 Q648,596 652,590 Q658,584 660,578"/>
<path class="d" d="M559,636 L622,610 L645,606 L662,593"/>
<path class="d" d="M561,643 L625,620 L650,610"/>
<path class="d" d="M559,650 L620,622"/>
<path class="s" d="M660,578 L661,600"/>
<path class="w" d="M622,608 L634,606 L634,625 Q628,628 622,625 Z" style="stroke-dasharray:5 2"/>
<path class="s" d="M622,616 Q628,619 634,616"/>
<path class="w" d="M646,602 Q652,599 657,599.5 Q666,601 666,610 Q665,620 655,621 L646,619 Z"/>
<ellipse class="s" cx="657.5" cy="610" rx="3.5" ry="4.2"/>
<path class="s" d="M650,603 Q647,611 651,620"/>
<path class="d" d="M643,620 L642,668"/>
<path class="s" d="M593,606 Q598,597 605,593"/>
<path class="d" d="M565,563 Q570,552 578,547 Q585,541 590,539 L603,535 L621,541 L634,541 Q640,544 645,548 L652,558 L655,564 L661,578 L661,590 L654,600"/>
<path class="d" d="M578,547 L580,552 M655,564 L648,574"/>
<path class="s" d="M569,569 L586,572 M570,582 L586,580"/>
<text transform="matrix(1 0.08 0 1 573 580.5)" style="font:bold 9px 'Liberation Sans',sans-serif" fill="#383838">7Z</text>
<path d="M586,576 C596,575 604,578 610,585 L617,597" fill="none" stroke="#383838" stroke-width="9.00" stroke-linecap="butt" stroke-linejoin="round"/>
<path d="M586,576 C596,575 604,578 610,585 L617,597" fill="none" stroke="#fff" stroke-width="6.50" stroke-linecap="butt" stroke-linejoin="round"/>
<path class="w" d="M588,552 L588,562 Q596.5,566 605,562 L605,552 Z"/>
<ellipse class="w" cx="596.5" cy="553" rx="8.5" ry="3.2"/>
<path class="w" d="M591.5,530 L591.5,553 Q596.3,556 601,553 L601,530 Z"/>
<ellipse class="w" cx="596.3" cy="530" rx="4.8" ry="2"/>
<path class="s" d="M591,528 Q589,525 592,524.5 M601.5,528 Q604,525 600.5,524.5"/>
<path class="w" d="M574,553 L574,566 Q578.5,568 583,566 L583,553 Z"/>
<ellipse class="w" cx="578.5" cy="553" rx="4.5" ry="2"/>
<path class="s" d="M574,559 L583,559"/>
<path class="w" d="M584,561 L588,559 L589,567 L585,569 Z"/>
<path class="w" d="M621,540 L634,541 L634,568 L621,567 Z"/>
<path class="s" d="M624,544 L624,560 M630,545 L630,561 M621,560 L634,561 M618,552 L621,552"/>
<path class="w" d="M617,560 L628,559 L628,567 L617,568 Z"/>
<path class="s" d="M600,534.2 L621,539 M600,542.6 L621,544.7"/>
<path d="M634,547 Q648,550 651,560 Q653,570 648,577 L641,581" fill="none" stroke="#383838" stroke-width="7.2" stroke-linecap="butt"/>
<path d="M634,547 Q648,550 651,560 Q653,570 648,577 L641,581" fill="none" stroke="#fff" stroke-width="4.8" stroke-linecap="butt"/>
<path d="M650,563 Q659,568 658,577 Q656,584 648,588" fill="none" stroke="#383838" stroke-width="6.8" stroke-linecap="butt"/>
<path d="M650,563 Q659,568 658,577 Q656,584 648,588" fill="none" stroke="#fff" stroke-width="4.4" stroke-linecap="butt"/>
<path class="w" d="M605,571 Q612,565 621,569 L638,573 Q643,576 641.3,582 L637,586 L620,584.6 Q608,584 605,578 Z"/>
<path class="s" d="M626,575 L638,582 M629,573.5 L640,580"/>
<ellipse class="w" cx="617" cy="577.5" rx="5.9" ry="8.4" transform="rotate(-10 617 577.5)"/>
<path class="s" d="M636,555 L638,567 M641,558 L643,570"/>
<path class="s" d="M604,590 Q620,588 638.5,596.5 M612,598 Q622,592 640,590 M614,604 L650,594"/>
<path class="s" d="M574,590 L600,596"/>
<path class="s" d="M585,588 Q597,585 600,600 Q604,606 605,615"/>
<path class="s" d="M590,610 Q600,605 610,600"/>
</g>
</svg></body></html>
